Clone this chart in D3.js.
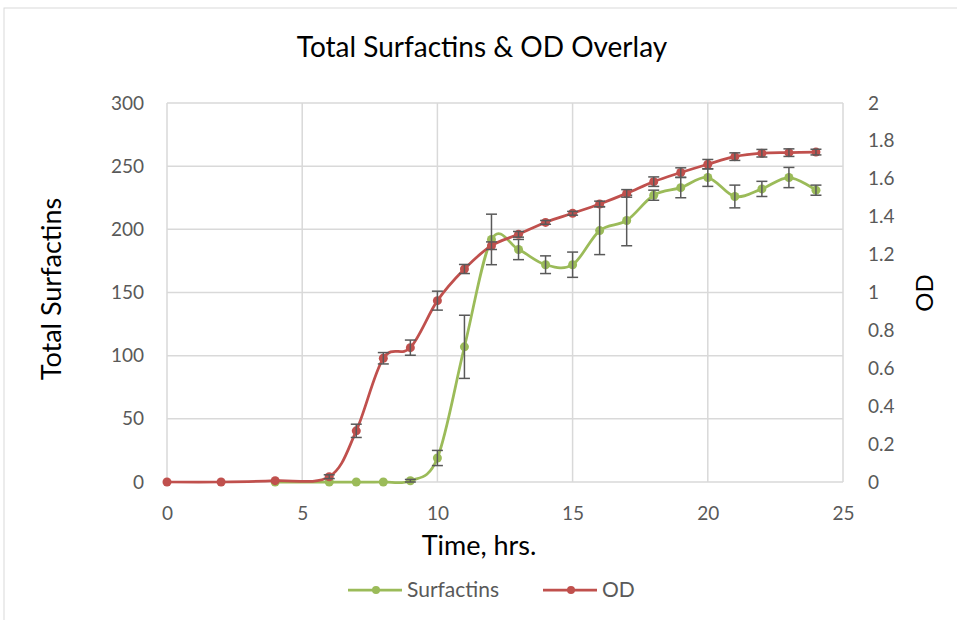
<!DOCTYPE html>
<html>
<head>
<meta charset="utf-8">
<script src="https://cdn.jsdelivr.net/npm/d3@7"></script>
<style>
  body { margin: 0; background: #fff; }
  text { font-family: Lato, "Open Sans", sans-serif; }
</style>
</head>
<body>
<svg id="chart" width="957" height="620"></svg>
<script>
// surfactins (left axis)
var surfTime = [4, 6, 7, 8, 9, 10, 11, 12, 13, 14, 15, 16, 17, 18, 19, 20, 21, 22, 23, 24];
var surfVal  = [0, 0, 0, 0, 1, 19, 107, 192, 184, 172, 172, 199, 207, 227, 233, 241, 226, 232, 241, 231];
var surfErr  = [0, 0, 0, 0, 1, 6, 25, 20, 8, 7, 10, 19, 20, 4, 8, 7, 9, 6, 8, 4];

// OD (right axis)
var odTime = [0, 2, 4, 6, 7, 8, 9, 10, 11, 12, 13, 14, 15, 16, 17, 18, 19, 20, 21, 22, 23, 24];
var odVal  = [0, 0, 0.007, 0.028, 0.27, 0.653, 0.709, 0.957, 1.124, 1.247, 1.307, 1.37, 1.418, 1.467, 1.523, 1.585, 1.633, 1.677, 1.717, 1.735, 1.738, 1.741];
var odErr  = [0, 0, 0, 0.01, 0.035, 0.03, 0.04, 0.05, 0.024, 0.02, 0.015, 0.01, 0.01, 0.015, 0.02, 0.025, 0.025, 0.025, 0.02, 0.02, 0.02, 0.015];

var xTicks = [0, 5, 10, 15, 20, 25];
var leftTicks = [0, 50, 100, 150, 200, 250, 300];
var rightTicks = [0, 0.2, 0.4, 0.6, 0.8, 1, 1.2, 1.4, 1.6, 1.8, 2];

var green = "#9BBB59", red = "#C0504D", grid = "#d9d9d9", label = "#595959";

var svg = d3.select("#chart");
var pLeft = 167, pRight = 843, pTop = 103, pBottom = 482;

var x = d3.scaleLinear().domain([0, 25]).range([pLeft, pRight]);
var yL = d3.scaleLinear().domain([0, 300]).range([pBottom, pTop]);
var yR = d3.scaleLinear().domain([0, 2]).range([pBottom, pTop]);

// chart frame
svg.append("rect").attr("x", 4).attr("y", 8).attr("width", 1000).attr("height", 1000)
  .attr("fill", "none").attr("stroke", grid).attr("stroke-width", 1);

svg.append("text").attr("x", 482).attr("y", 57).attr("text-anchor", "middle")
  .attr("font-size", 28).attr("fill", "#000").text("Total Surfactins & OD Overlay");

// gridlines
svg.append("g").selectAll("line").data(leftTicks).enter().append("line")
  .attr("x1", pLeft).attr("x2", pRight)
  .attr("y1", function(d) { return yL(d); }).attr("y2", function(d) { return yL(d); })
  .attr("stroke", grid).attr("stroke-width", 1.5);
svg.append("g").selectAll("line").data(xTicks).enter().append("line")
  .attr("y1", pTop).attr("y2", pBottom)
  .attr("x1", function(d) { return x(d); }).attr("x2", function(d) { return x(d); })
  .attr("stroke", grid).attr("stroke-width", 1.5);

// axes (labels only)
var gx = svg.append("g").attr("transform", "translate(0," + pBottom + ")")
  .call(d3.axisBottom(x).tickValues(xTicks).tickSize(0).tickPadding(25));
var gl = svg.append("g").attr("transform", "translate(" + pLeft + ",0)")
  .call(d3.axisLeft(yL).tickValues(leftTicks).tickSize(0).tickPadding(23));
var gr = svg.append("g").attr("transform", "translate(" + pRight + ",0)")
  .call(d3.axisRight(yR).tickValues(rightTicks).tickSize(0).tickPadding(25)
    .tickFormat(function(d) { return d3.format("")(+d.toFixed(1)); }));
[gx, gl, gr].forEach(function(g) {
  g.select(".domain").remove();
  g.selectAll("text").attr("font-size", 19).attr("fill", label)
    .style("font-family", "Lato, 'Open Sans', sans-serif");
});

svg.append("text").attr("x", 479).attr("y", 555).attr("text-anchor", "middle")
  .attr("font-size", 27).attr("fill", "#000").text("Time, hrs.");
svg.append("text").attr("transform", "translate(61,289) rotate(-90)").attr("text-anchor", "middle")
  .attr("font-size", 27).attr("fill", "#000").text("Total Surfactins");
svg.append("text").attr("transform", "translate(933,293) rotate(-90)").attr("text-anchor", "middle")
  .attr("font-size", 24).attr("fill", "#000").text("OD");

function drawSeries(times, vals, errs, yScale, color) {
  var pts = times.map(function(t, i) { return {t: t, v: vals[i], e: errs[i]}; });
  var line = d3.line().x(function(d) { return x(d.t); }).y(function(d) { return yScale(d.v); })
    .curve(d3.curveCatmullRom.alpha(0));
  svg.append("path").datum(pts).attr("d", line).attr("fill", "none")
    .attr("stroke", color).attr("stroke-width", 2.75);
  svg.append("g").selectAll("circle").data(pts).enter().append("circle")
    .attr("cx", function(d) { return x(d.t); }).attr("cy", function(d) { return yScale(d.v); })
    .attr("r", 4.5).attr("fill", color);
  var eb = svg.append("g").attr("stroke", label).attr("stroke-width", 1.5)
    .selectAll("g").data(pts.filter(function(d) { return d.e > 0; })).enter().append("g");
  eb.append("line").attr("x1", function(d) { return x(d.t); }).attr("x2", function(d) { return x(d.t); })
    .attr("y1", function(d) { return yScale(d.v - d.e); }).attr("y2", function(d) { return yScale(d.v + d.e); });
  [-1, 1].forEach(function(s) {
    eb.append("line").attr("x1", function(d) { return x(d.t) - 5.5; }).attr("x2", function(d) { return x(d.t) + 5.5; })
      .attr("y1", function(d) { return yScale(d.v + s * d.e); }).attr("y2", function(d) { return yScale(d.v + s * d.e); });
  });
}

drawSeries(surfTime, surfVal, surfErr, yL, green);
drawSeries(odTime, odVal, odErr, yR, red);

// legend
var legend = [{name: "Surfactins", color: green, x: 348}, {name: "OD", color: red, x: 543}];
var lg = svg.append("g").selectAll("g").data(legend).enter().append("g")
  .attr("transform", function(d) { return "translate(" + d.x + ",590)"; });
lg.append("line").attr("x1", 0).attr("x2", 54).attr("stroke", function(d) { return d.color; }).attr("stroke-width", 2.75);
lg.append("circle").attr("cx", 28).attr("r", 4).attr("fill", function(d) { return d.color; });
lg.append("text").attr("x", 59).attr("y", 7).attr("font-size", 21).attr("fill", label)
  .text(function(d) { return d.name; });
</script>
</body>
</html>
